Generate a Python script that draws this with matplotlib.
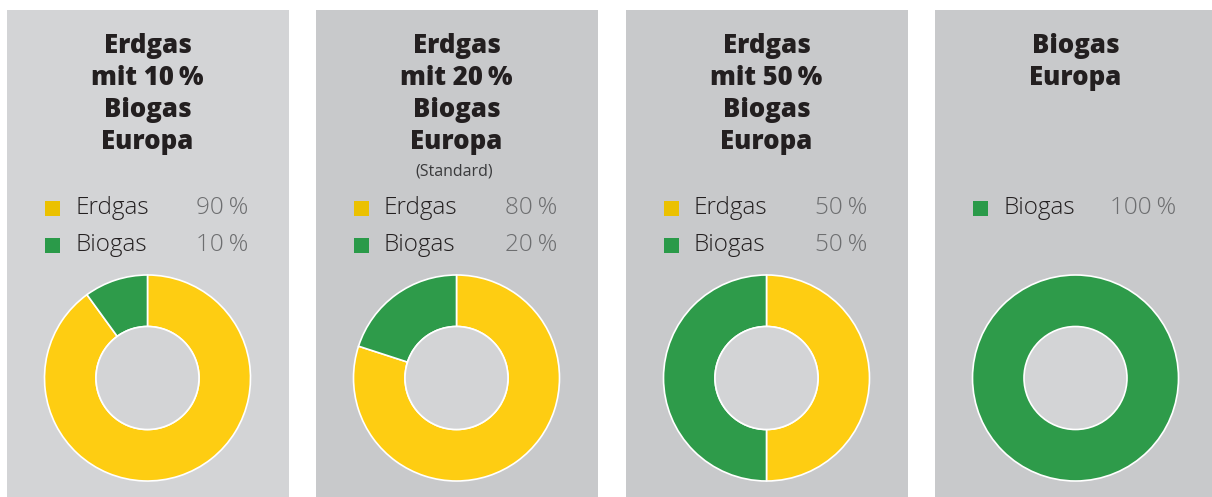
import matplotlib.pyplot as plt
from matplotlib.patches import Rectangle, Circle

# data
titles = [["Erdgas", "mit 10\u2009%", "Biogas", "Europa"],
          ["Erdgas", "mit 20\u2009%", "Biogas", "Europa"],
          ["Erdgas", "mit 50\u2009%", "Biogas", "Europa"],
          ["Biogas", "Europa"]]
notes = ["", "(Standard)", "", ""]
erdgas = [90, 80, 50, 0]
biogas = [10, 20, 50, 100]
labels = ["Erdgas", "Biogas"]

W, H = 1212, 497
yellow = "#fecd12"
green = "#2e9b4a"
yellow_sq = "#ebc100"
green_sq = "#2a9a49"
bg_light = "#d3d4d6"
bg_dark = "#c8c9cb"
fam = ["Open Sans", "DejaVu Sans"]

fig = plt.figure(figsize=(W / 100, H / 100), dpi=100)
fig.patch.set_facecolor("white")


def fx(x):
    return x / W


def fy(y):
    return 1 - y / H


panel_left = [7, 316, 626, 935]
panel_w = 282

for i in range(4):
    x0 = panel_left[i]
    bg = bg_light if i == 0 else bg_dark
    fig.add_artist(Rectangle((fx(x0), fy(497)), panel_w / W, 487 / H,
                             transform=fig.transFigure, facecolor=bg,
                             edgecolor="none", zorder=0))
    cx = x0 + 140.5

    # title
    for k, line in enumerate(titles[i]):
        fig.text(fx(cx), fy(46 + 32 * k), line, ha="center", va="center",
                 fontsize=18.5, fontweight="heavy", color="#231f20", family=fam)
    if notes[i]:
        fig.text(fx(cx - 2), fy(172), notes[i], ha="center", va="center",
                 fontsize=11.5, color="#3a3a3c", family=fam)

    # legend
    vals = [erdgas[i], biogas[i]]
    cols = [yellow, green]
    sq_cols = [yellow_sq, green_sq]
    row = 0
    for lab, v, sc in zip(labels, vals, sq_cols):
        if v == 0:
            continue
        yc = 208.5 + 36.5 * row
        fig.add_artist(Rectangle((fx(x0 + 38), fy(yc + 7.5)), 15 / W, 15 / H,
                                 transform=fig.transFigure, facecolor=sc,
                                 edgecolor="none"))
        fig.text(fx(x0 + 68), fy(yc), lab, ha="left", va="center",
                 fontsize=17.5, fontweight="light", color="#231f20", family=fam)
        fig.text(fx(x0 + 241), fy(yc), f"{v}\u2009%", ha="right", va="center",
                 fontsize=17.5, fontweight="light", color="#6d6e70", family=fam)
        row += 1

    # donut
    r = 103
    pad = 3
    cy = 378
    ax = fig.add_axes([fx(cx - r - pad), fy(cy + r + pad),
                       2 * (r + pad) / W, 2 * (r + pad) / H])
    ax.set_facecolor("none")
    pv = [v for v in vals if v > 0]
    pc = [c for v, c in zip(vals, cols) if v > 0]
    lw = 1.2 if len(pv) > 1 else 0
    ax.pie(pv, colors=pc, startangle=90, counterclock=False,
           radius=1, wedgeprops=dict(width=0.5, edgecolor="white", linewidth=lw))
    if lw == 0:
        ax.add_patch(Circle((0, 0), 1, facecolor="none", edgecolor="white", lw=1.2))
    ax.add_patch(Circle((0, 0), 0.5, facecolor=bg_light, edgecolor="white", lw=1.2, zorder=5))
    lim = (r + pad) / r
    ax.set_xlim(-lim, lim)
    ax.set_ylim(-lim, lim)
    ax.axis("off")

fig.savefig("out.png", dpi=100)
